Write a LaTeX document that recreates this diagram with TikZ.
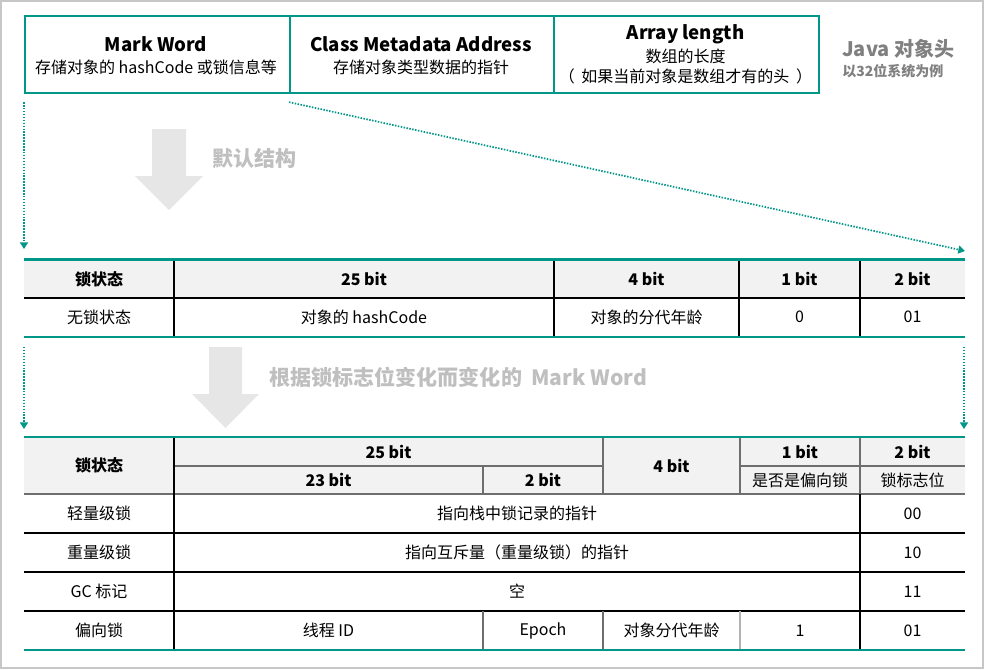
\documentclass[tikz,border=0pt]{standalone}
\usepackage{fontspec}
\setmainfont{Noto Sans CJK SC}
\usetikzlibrary{arrows.meta}
\definecolor{jteal}{RGB}{0,150,136}
\definecolor{hdrfill}{RGB}{242,242,242}
\definecolor{bigarrow}{RGB}{230,230,230}
\definecolor{captxt}{RGB}{191,191,191}
\definecolor{javatxt}{RGB}{128,128,128}
\definecolor{gridgray}{RGB}{110,110,110}
\tikzset{
  body/.style={inner sep=0pt, font=\fontsize{12}{14}\selectfont},
  bodyb/.style={inner sep=0pt, font=\bfseries\fontsize{12}{14}\selectfont},
  title/.style={inner sep=0pt, font=\bfseries\fontsize{14}{16}\selectfont},
  caption/.style={inner sep=0pt, text=captxt, font=\bfseries\fontsize{15.8}{18}\selectfont},
  headbox/.style={draw=jteal, line width=1.6pt, inner sep=0pt, minimum height=57.75pt},
  tealrule/.style={draw=jteal, line width=2pt},
  thin/.style={draw=black, line width=0.8pt},
  hgrid/.style={draw=gridgray, line width=1.2pt},
  dotlink/.style={draw=jteal, line width=1.3pt, dash pattern=on 1.1pt off 1.1pt,
    -{Triangle[width=6pt,length=5pt]}},
}
\begin{document}
\begin{tikzpicture}[x=0.75pt,y=-0.75pt]
\useasboundingbox (0,0) rectangle (986,669);
\draw[draw=black!22, line width=0.9pt] (1,1) rectangle (983,668);

% ---- object header boxes ----
\node[headbox, minimum width=198.75pt, anchor=north west] (mwbox) at (24,15) {};
\node[headbox, minimum width=198pt, anchor=north west] (cmbox) at (289,15) {};
\node[headbox, minimum width=198.75pt, anchor=north west] (albox) at (553,15) {};

\node[title] (mw) at (156,44) {Mark Word};
\node[body] (mwd) at (156,67) {存储对象的 hashCode 或锁信息等};
\node[title] (cm) at (421,44) {Class Metadata Address};
\node[body] (cmd) at (421,67) {存储对象类型数据的指针};
\node[title] (al) at (685.5,34) {Array length};
\node[body] (ald) at (685.5,56) {数组的长度};
\node[body] (ale) at (685.5,76) {（\hspace{5pt}如果当前对象是数组才有的头\hspace{5pt}）};

\node[inner sep=0pt, anchor=west, text=javatxt, font=\bfseries\fontsize{15}{17}\selectfont] (java) at (842,49) {Java 对象头};
\node[inner sep=0pt, anchor=west, text=javatxt, font=\bfseries\fontsize{10.5}{12}\selectfont] (javad) at (842,71) {以32位系统为例};

% ---- dotted links to the first table ----
\coordinate (t1l) at (24,249);
\coordinate (t1r) at (965,251);
\draw[dotlink] ([yshift=-6pt]mwbox.south west) -- (t1l);
\draw[dotlink] ([yshift=-6pt]cmbox.south west) -- (t1r);

% ---- big arrow 1 ----
\fill[bigarrow] (152,129) -- (186,129) -- (186,176) -- (203,176) -- (169,210) -- (135,176) -- (152,176) -- cycle;
\node[caption, anchor=west] (cap1) at (212,158) {默认结构};

% ---- table 1 ----
\fill[hdrfill] (24,260) rectangle (965,298);
\draw[thin] (24,298) -- (965,298);
\foreach \cx in {174,554,739,860} \draw[thin] (\cx,259) -- (\cx,337);
\draw[tealrule] (24,259.5) -- (965,259.5);
\draw[tealrule] (24,337) -- (965,337);

\node[bodyb] (a1) at (99,279) {锁状态};
\node[bodyb] (a2) at (364,279) {25 bit};
\node[bodyb] (a3) at (646.5,279) {4 bit};
\node[bodyb] (a4) at (799.5,279) {1 bit};
\node[bodyb] (a5) at (912.5,279) {2 bit};
\node[body] (b1) at (99,317) {无锁状态};
\node[body] (b2) at (364,317) {对象的 hashCode};
\node[body] (b3) at (646.5,317) {对象的分代年龄};
\node[body] (b4) at (799.5,317) {0};
\node[body] (b5) at (912.5,317) {01};

% ---- dotted links to the second table ----
\coordinate (u1a) at (24,347);
\coordinate (u1b) at (24,429);
\coordinate (u2a) at (964,347);
\coordinate (u2b) at (964,429);
\draw[dotlink] (u1a) -- (u1b);
\draw[dotlink] (u2a) -- (u2b);

% ---- big arrow 2 ----
\fill[bigarrow] (209,347) -- (242,347) -- (242,394) -- (259,394) -- (225.5,428) -- (192,394) -- (209,394) -- cycle;
\node[caption, anchor=west] (cap2) at (269,377) {根据锁标志位变化而变化的\hspace{7pt}Mark Word};

% ---- table 2 ----
\fill[hdrfill] (24,437) rectangle (965,494);
\draw[hgrid] (174,466) -- (603,466);
\draw[hgrid] (740,466) -- (965,466);
\draw[hgrid] (483,466) -- (483,494);
\draw[hgrid] (603,437) -- (603,494);
\draw[hgrid] (740,437) -- (740,494);
\draw[hgrid] (860,437) -- (860,494);
\draw[hgrid] (24,494) -- (965,494);
\foreach \ry in {533,572,611} \draw[thin] (24,\ry) -- (965,\ry);
\draw[thin] (174,437) -- (174,650);
\draw[thin] (860,494) -- (860,650);
\draw[hgrid] (483,611) -- (483,650);
\draw[hgrid] (603,611) -- (603,650);
\draw[draw=black!30, line width=1.2pt] (740,611) -- (740,650);
\draw[tealrule] (24,437) -- (965,437);
\draw[tealrule] (24,650) -- (965,650);

\node[bodyb] (h1) at (99,465.5) {锁状态};
\node[bodyb] (h2) at (388.5,451.5) {25 bit};
\node[bodyb] (h3) at (328.5,480) {23 bit};
\node[bodyb] (h4) at (543,480) {2 bit};
\node[bodyb] (h5) at (671.5,465.5) {4 bit};
\node[bodyb] (h6) at (800,451.5) {1 bit};
\node[bodyb] (h7) at (912.5,451.5) {2 bit};
\node[body] (h8) at (800,480) {是否是偏向锁};
\node[body] (h9) at (912.5,480) {锁标志位};

\node[body] (r1a) at (99,513.5) {轻量级锁};
\node[body] (r1b) at (517,513.5) {指向栈中锁记录的指针};
\node[body] (r1c) at (912.5,513.5) {00};
\node[body] (r2a) at (99,552.5) {重量级锁};
\node[body] (r2b) at (517,552.5) {指向互斥量（重量级锁）的指针};
\node[body] (r2c) at (912.5,552.5) {10};
\node[body] (r3a) at (99,591.5) {GC 标记};
\node[body] (r3b) at (517,591.5) {空};
\node[body] (r3c) at (912.5,591.5) {11};
\node[body] (r4a) at (99,630.5) {偏向锁};
\node[body] (r4b) at (328.5,630.5) {线程 ID};
\node[body] (r4c) at (543,630.5) {Epoch};
\node[body] (r4d) at (671.5,630.5) {对象分代年龄};
\node[body] (r4e) at (800,630.5) {1};
\node[body] (r4f) at (912.5,630.5) {01};
\end{tikzpicture}
\end{document}
